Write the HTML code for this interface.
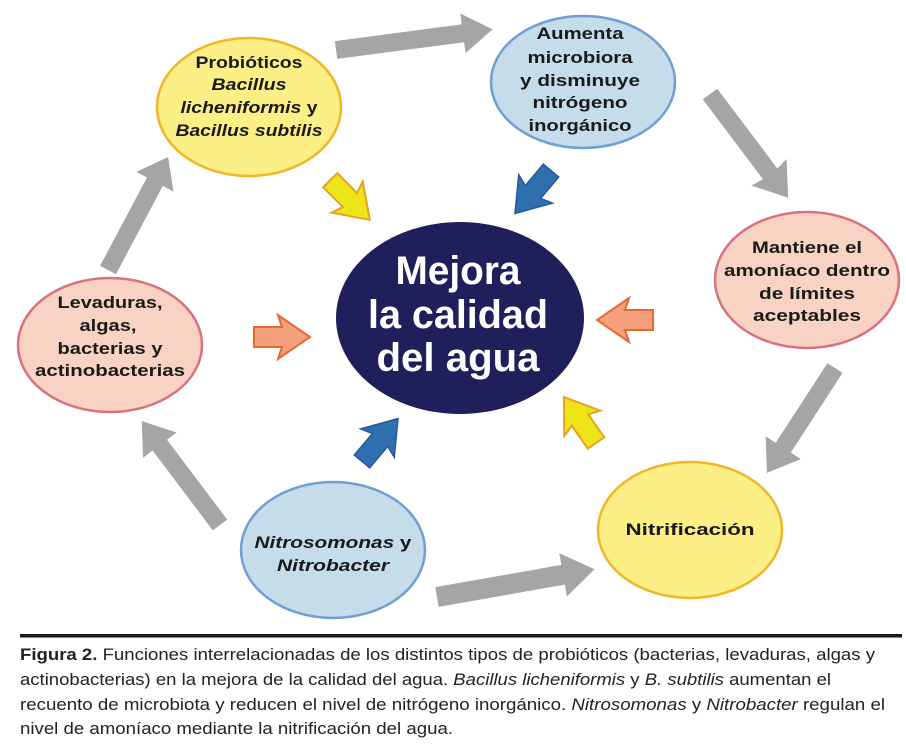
<!DOCTYPE html>
<html><head><meta charset="utf-8"><style>
html,body{margin:0;padding:0;background:#fff;}
svg{display:block;}
text{font-family:"Liberation Sans",sans-serif;font-weight:bold;fill:#1a1a1a;}
.c{font-family:"Liberation Sans",sans-serif;font-weight:normal;font-size:17px;fill:#222;}
</style></head><body>
<svg width="906" height="750" viewBox="0 0 906 750" xmlns="http://www.w3.org/2000/svg">
<defs>
<polygon id="ga" points="0,-9 -0,-9"/>
<polygon id="sa" points="-28,-10 0,-10 -4,-22 28,0 -4,22 0,10 -28,10"/>
</defs>
<!-- gray arrows: drawn as line + head -->
<g fill="#a5a5a7">
<g transform="translate(336,50) rotate(-7.5)"><polygon points="0,-9 128,-9 128,-20 158,0 128,20 128,9 0,9"/></g>
<g transform="translate(710,94) rotate(53)"><polygon points="0,-9 100,-9 98,-22 130,0 98,22 100,9 0,9"/></g>
<g transform="translate(835,368) rotate(123)"><polygon points="0,-9 95,-9 95,-21 125,0 95,21 95,9 0,9"/></g>
<g transform="translate(437,597) rotate(-10)"><polygon points="0,-10 128,-10 128,-22 160,0 128,22 128,10 0,10"/></g>
<g transform="translate(220,525) rotate(-127)"><polygon points="0,-9 100,-9 100,-21 130,0 100,21 100,9 0,9"/></g>
<g transform="translate(108,270) rotate(-62)"><polygon points="0,-9 100,-9 100,-21 128,0 100,21 100,9 0,9"/></g>
</g>
<!-- small colored arrows -->
<use href="#sa" transform="translate(350,200) rotate(45)" fill="#ede41a" stroke="#e8a21e" stroke-width="2"/>
<use href="#sa" transform="translate(533,192) rotate(130)" fill="#2f6fb0" stroke="#24599a" stroke-width="1.5"/>
<use href="#sa" transform="translate(282,337) rotate(0)" fill="#f4a07d" stroke="#e8682e" stroke-width="2"/>
<use href="#sa" transform="translate(625,320) rotate(180)" fill="#f4a07d" stroke="#e8682e" stroke-width="2"/>
<use href="#sa" transform="translate(380,440) rotate(-50)" fill="#2f6fb0" stroke="#24599a" stroke-width="1.5"/>
<use href="#sa" transform="translate(580,420) rotate(-125)" fill="#ede41a" stroke="#e8a21e" stroke-width="2"/>
<!-- circles -->
<ellipse cx="249" cy="107" rx="92" ry="69" fill="#fbef86" stroke="#f0b627" stroke-width="2.5"/>
<ellipse cx="583" cy="82" rx="92" ry="66" fill="#c5dcea" stroke="#6f9fd3" stroke-width="2.5"/>
<ellipse cx="807" cy="280" rx="92" ry="68" fill="#f8d2c2" stroke="#d9717e" stroke-width="2.5"/>
<ellipse cx="110" cy="345" rx="92" ry="67" fill="#f8d2c2" stroke="#d9717e" stroke-width="2.5"/>
<ellipse cx="333" cy="550" rx="92" ry="68" fill="#c5dcea" stroke="#6f9fd3" stroke-width="2.5"/>
<ellipse cx="690" cy="530" rx="92" ry="68" fill="#fbef86" stroke="#f0b627" stroke-width="2.5"/>
<ellipse cx="460" cy="318" rx="124" ry="96" fill="#1f1f5b"/>
<!-- texts -->
<g font-size="17" text-anchor="middle">
<text x="249" y="68" textLength="107" lengthAdjust="spacingAndGlyphs">Probióticos</text>
<text x="249" y="90" textLength="75" lengthAdjust="spacingAndGlyphs" font-style="italic">Bacillus</text>
<text x="249" y="113" textLength="137" lengthAdjust="spacingAndGlyphs"><tspan font-style="italic">licheniformis</tspan> y</text>
<text x="249" y="136" textLength="147" lengthAdjust="spacingAndGlyphs" font-style="italic">Bacillus subtilis</text>
<text x="580" y="39" textLength="87" lengthAdjust="spacingAndGlyphs">Aumenta</text>
<text x="580" y="63" textLength="105" lengthAdjust="spacingAndGlyphs">microbiora</text>
<text x="580" y="86" textLength="120" lengthAdjust="spacingAndGlyphs">y disminuye</text>
<text x="580" y="108" textLength="95" lengthAdjust="spacingAndGlyphs">nitrógeno</text>
<text x="580" y="131" textLength="103" lengthAdjust="spacingAndGlyphs">inorgánico</text>
<text x="807" y="253" textLength="110" lengthAdjust="spacingAndGlyphs">Mantiene el</text>
<text x="807" y="276" textLength="166" lengthAdjust="spacingAndGlyphs">amoníaco dentro</text>
<text x="807" y="299" textLength="96" lengthAdjust="spacingAndGlyphs">de límites</text>
<text x="807" y="321" textLength="108" lengthAdjust="spacingAndGlyphs">aceptables</text>
<text x="110" y="308" textLength="105" lengthAdjust="spacingAndGlyphs">Levaduras,</text>
<text x="108" y="331" textLength="57" lengthAdjust="spacingAndGlyphs">algas,</text>
<text x="110" y="354" textLength="105" lengthAdjust="spacingAndGlyphs">bacterias y</text>
<text x="110" y="376" textLength="150" lengthAdjust="spacingAndGlyphs">actinobacterias</text>
<text x="333" y="548" textLength="157" lengthAdjust="spacingAndGlyphs"><tspan font-style="italic">Nitrosomonas</tspan> y</text>
<text x="333" y="571" textLength="112" lengthAdjust="spacingAndGlyphs" font-style="italic">Nitrobacter</text>
<text x="690" y="535" textLength="129" lengthAdjust="spacingAndGlyphs">Nitrificación</text>
</g>
<g font-size="40" text-anchor="middle" style="fill:#fff">
<text x="458" y="284" textLength="125" lengthAdjust="spacingAndGlyphs" style="fill:#fff">Mejora</text>
<text x="458" y="328" textLength="180" lengthAdjust="spacingAndGlyphs" style="fill:#fff">la calidad</text>
<text x="458" y="371" textLength="163" lengthAdjust="spacingAndGlyphs" style="fill:#fff">del agua</text>
</g>
<rect x="20" y="634" width="882" height="3.5" fill="#1a1a1a"/>
<text class="c" x="20" y="660" textLength="855" lengthAdjust="spacingAndGlyphs"><tspan font-weight="bold">Figura 2.</tspan> Funciones interrelacionadas de los distintos tipos de probióticos (bacterias, levaduras, algas y</text>
<text class="c" x="20" y="685" textLength="811" lengthAdjust="spacingAndGlyphs">actinobacterias) en la mejora de la calidad del agua. <tspan font-style="italic">Bacillus licheniformis</tspan> y <tspan font-style="italic">B. subtilis</tspan> aumentan el</text>
<text class="c" x="20" y="710" textLength="865" lengthAdjust="spacingAndGlyphs">recuento de microbiota y reducen el nivel de nitrógeno inorgánico. <tspan font-style="italic">Nitrosomonas</tspan> y <tspan font-style="italic">Nitrobacter</tspan> regulan el</text>
<text class="c" x="20" y="734" textLength="433" lengthAdjust="spacingAndGlyphs">nivel de amoníaco mediante la nitrificación del agua.</text>
</svg>
</body></html>
